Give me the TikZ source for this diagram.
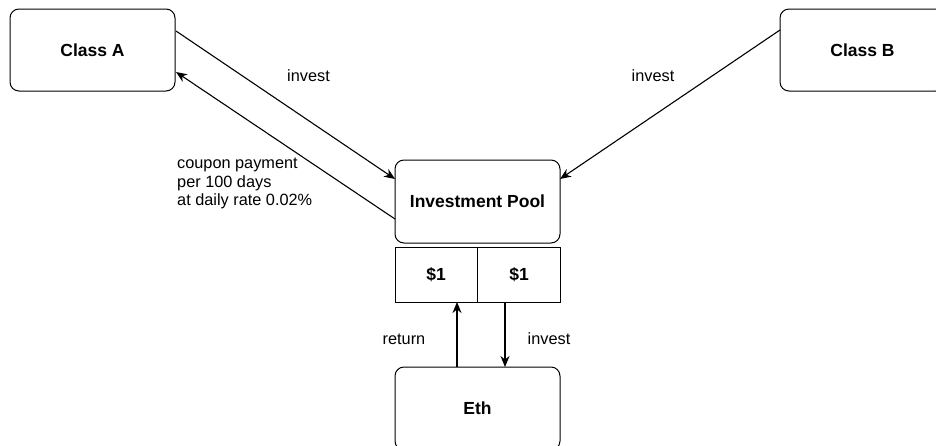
\documentclass[tikz,border=0pt]{standalone}
\usepackage{fontspec}
\setmainfont{Liberation Sans}
\usetikzlibrary{arrows.meta}
\begin{document}
\begin{tikzpicture}[x=1pt,y=-1pt,
  box/.style={draw=black,line width=1pt,rounded corners=9pt},
  cell/.style={draw=black,line width=1pt},
  btxt/.style={font=\fontsize{17.5}{20}\selectfont\bfseries},
  ltxt/.style={font=\fontsize{16.3}{18.6}\selectfont,align=left},
  conn/.style={line width=1.1pt,-{Stealth[length=11pt,width=9pt,inset=3.5pt]}}]
\useasboundingbox (0,0) rectangle (936,445);
\clip (0,0) rectangle (936,445);
\fill[white] (0,0) rectangle (936,445);
% boxes
\draw[box] (10,9) rectangle (175,91);
\node[btxt] (A) at (92.5,50) {Class A};
\draw[box] (780,9) rectangle (945,91);
\node[btxt] (B) at (862.5,50) {Class B};
\draw[box] (395,160) rectangle (560,243);
\node[btxt] (P) at (477.5,201) {Investment Pool};
\draw[cell] (395,247) rectangle (477.5,302);
\draw[cell] (477.5,247) rectangle (560,302);
\node[btxt] (c1) at (436,274.5) {\$1};
\node[btxt] (c2) at (519,274.5) {\$1};
\draw[box] (395,367) rectangle (560,450);
\node[btxt] (E) at (477.5,408) {Eth};
% anchor points
\coordinate (a1) at (176,31);
\coordinate (p1) at (395,179);
\coordinate (p2) at (395,219);
\coordinate (a2) at (176,72);
\coordinate (b1) at (780,30);
\coordinate (p3) at (560,179);
\coordinate (e1) at (457,367);
\coordinate (s1) at (457,302);
\coordinate (s2) at (505,302);
\coordinate (e2) at (505,367);
% connectors
\draw[conn] (a1) -- (p1);
\draw[conn] (p2) -- (a2);
\draw[conn] (b1) -- (p3);
\draw[conn] (e1) -- (s1);
\draw[conn] (s2) -- (e2);
% labels
\node[ltxt] (l1) at (308.5,76) {invest};
\node[ltxt] (l2) at (653,76) {invest};
\node[ltxt,anchor=north west,inner sep=0pt] (l3) at (177,158) {coupon payment\\per 100 days\\at daily rate 0.02\%};
\node[ltxt] (l4) at (404,339) {return};
\node[ltxt] (l5) at (549,339) {invest};
\end{tikzpicture}
\end{document}
